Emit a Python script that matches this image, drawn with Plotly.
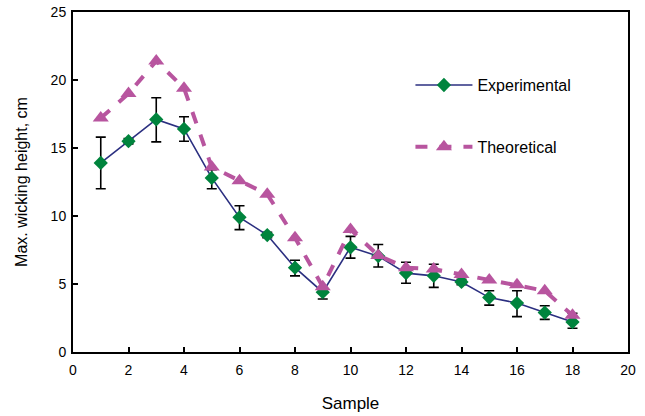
import plotly.graph_objects as go

samples = list(range(1, 19))
experimental = [13.9, 15.5, 17.1, 16.4, 12.8, 9.9, 8.6, 6.2, 4.4, 7.7, 7.05, 5.8, 5.6, 5.15, 4.0, 3.6, 2.9, 2.2]
err_upper = [15.8, 15.7, 18.7, 17.3, 13.4, 10.75, 8.8, 6.75, 4.7, 8.5, 7.9, 6.6, 6.45, 5.35, 4.5, 4.5, 3.4, 2.85]
err_lower = [12.0, 15.3, 15.45, 15.5, 12.0, 9.0, 8.4, 5.6, 3.9, 6.9, 6.25, 5.05, 4.75, 4.95, 3.45, 2.6, 2.4, 1.75]
theoretical = [17.2, 19.0, 21.4, 19.4, 13.6, 12.6, 11.6, 8.4, 4.8, 9.0, 7.1, 6.2, 6.1, 5.7, 5.3, 4.95, 4.5, 2.7]

x_ticks = list(range(0, 21, 2))
y_ticks = list(range(0, 26, 5))

plus = [u - v for u, v in zip(err_upper, experimental)]
minus = [v - l for v, l in zip(experimental, err_lower)]

FONT = "Liberation Sans, Arial"

fig = go.Figure()
fig.add_trace(go.Scatter(
    x=samples, y=experimental, name="Experimental", mode="lines+markers",
    line=dict(color="#2B2F80", width=1.6),
    marker=dict(symbol="diamond", size=11, color="#00843D"),
    error_y=dict(type="data", array=plus, arrayminus=minus, color="black", thickness=1.6, width=5),
    legendgroup="a",
))
fig.add_trace(go.Scatter(
    x=samples, y=theoretical, name="Theoretical", mode="lines+markers",
    line=dict(color="#B8559F", width=4, dash="dash"),
    marker=dict(symbol="triangle-up", size=14, color="#B8559F"),
    legendgroup="b",
))

axis_common = dict(
    showgrid=False, zeroline=False, showline=True, linecolor="black", linewidth=2,
    mirror=True, ticks="inside", ticklen=5, tickwidth=1.5, tickcolor="black",
    tickfont=dict(family=FONT, size=14, color="black"), automargin=False,
)
fig.update_xaxes(range=[0, 20], tickvals=x_ticks, ticklabelstandoff=4,
                 title=dict(text="Sample", font=dict(family=FONT, size=17, color="black"), standoff=20),
                 **axis_common)
fig.update_yaxes(range=[0, 25], tickvals=y_ticks, ticklabelstandoff=2,
                 title=dict(text="Max. wicking height, cm", font=dict(family=FONT, size=16, color="black"), standoff=19),
                 **axis_common)

fig.update_layout(
    width=645, height=416,
    margin=dict(l=73, r=17, t=12, b=64),
    plot_bgcolor="white", paper_bgcolor="white",
    font=dict(family=FONT, size=14, color="black"),
    legend=dict(x=0.608, y=0.835, xanchor="left", yanchor="top", bgcolor="rgba(0,0,0,0)",
                tracegroupgap=38, itemwidth=57, font=dict(size=16)),
)

fig.write_html("out.html")
